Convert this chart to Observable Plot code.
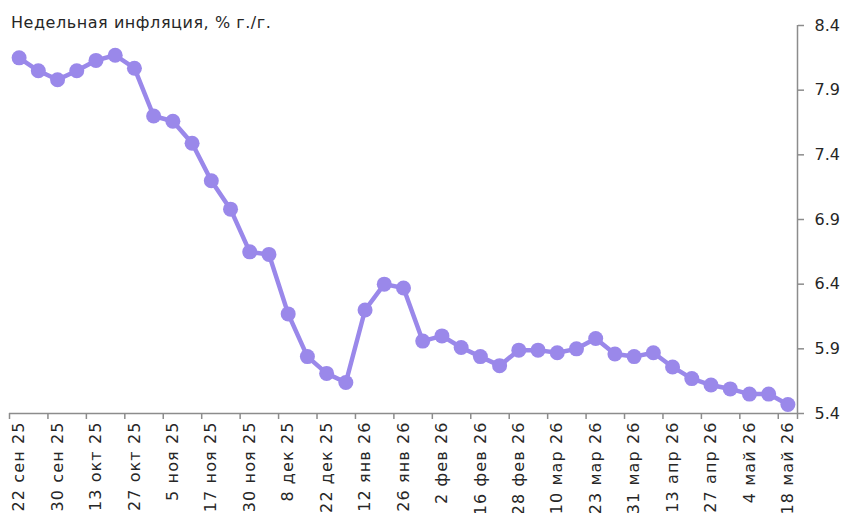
<!DOCTYPE html>
<html>
<head>
<meta charset="utf-8">
<script src="https://cdn.jsdelivr.net/npm/d3@7"></script>
<script src="https://cdn.jsdelivr.net/npm/@observablehq/plot@0.6"></script>
<style>
  html, body { margin: 0; padding: 0; background: #fff; }
  #wrap { position: relative; width: 843px; height: 513px; overflow: hidden; }
  #title { position: absolute; left: 11px; top: 13px; font-family: "DejaVu Sans", sans-serif; font-size: 16px; letter-spacing: 0.55px; color: #262626; white-space: nowrap; }
  .xlab text { letter-spacing: 1.1px; }
</style>
</head>
<body>
<div id="wrap">
  <div id="title">Недельная инфляция, % г./г.</div>
</div>
<script>
const xLabels = ["22 сен 25","30 сен 25","13 окт 25","27 окт 25","5 ноя 25","17 ноя 25","30 ноя 25","8 дек 25","22 дек 25","12 янв 26","26 янв 26","2 фев 26","16 фев 26","28 фев 26","10 мар 26","23 мар 26","31 мар 26","13 апр 26","27 апр 26","4 май 26","18 май 26"];
const values = [8.15, 8.05, 7.98, 8.05, 8.13, 8.17, 8.07, 7.70, 7.66, 7.49, 7.20, 6.98, 6.65, 6.63, 6.17, 5.84, 5.71, 5.64, 6.20, 6.40, 6.37, 5.96, 6.00, 5.91, 5.84, 5.77, 5.89, 5.89, 5.87, 5.90, 5.98, 5.86, 5.84, 5.87, 5.76, 5.67, 5.62, 5.59, 5.55, 5.55, 5.47];
const yTicks = [5.4, 5.9, 6.4, 6.9, 7.4, 7.9, 8.4];

const data = values.map((v, i) => ({i, v}));
const n = values.length;
const labelPos = xLabels.map((_, k) => k * 2);
const tickPos = d3.range(-0.5, n, 2).concat([n - 0.5]);

const purple = "#9A88EA";
const gray = "#8C8C8C";

const chart = Plot.plot({
  width: 843,
  height: 513,
  marginLeft: 9,
  marginRight: 46,
  marginTop: 25,
  marginBottom: 100,
  x: {domain: [-0.5, n - 0.5], axis: null},
  y: {domain: [5.4, 8.4], axis: null},
  style: {fontFamily: "DejaVu Sans, sans-serif", fontSize: "16px", color: "#262626", background: "transparent"},
  marks: [
    Plot.ruleY([5.4], {stroke: gray, strokeWidth: 1.5}),
    Plot.ruleX([n - 0.5], {stroke: gray, strokeWidth: 1.5}),
    Plot.axisX(tickPos, {anchor: "bottom", label: null, tickSize: 6, tickFormat: () => "", stroke: gray, strokeWidth: 1.5}),
    Plot.axisX(labelPos, {anchor: "bottom", label: null, tickSize: 0, tickPadding: 8, tickRotate: -90, tickFormat: d => xLabels[d / 2], fill: "#262626", fontSize: 16, className: "xlab"}),
    Plot.axisY(yTicks, {anchor: "right", label: null, tickSize: 6, tickPadding: 11, tickFormat: d => d.toFixed(1), stroke: gray, strokeWidth: 1.5, fill: "#262626", fontSize: 16}),
    Plot.line(data, {x: "i", y: "v", stroke: purple, strokeWidth: 4.5}),
    Plot.dot(data, {x: "i", y: "v", r: 7.5, fill: purple, stroke: "none"})
  ]
});
chart.style.position = "absolute";
chart.style.left = "0";
chart.style.top = "0";
document.getElementById("wrap").prepend(chart);
</script>
</body>
</html>
